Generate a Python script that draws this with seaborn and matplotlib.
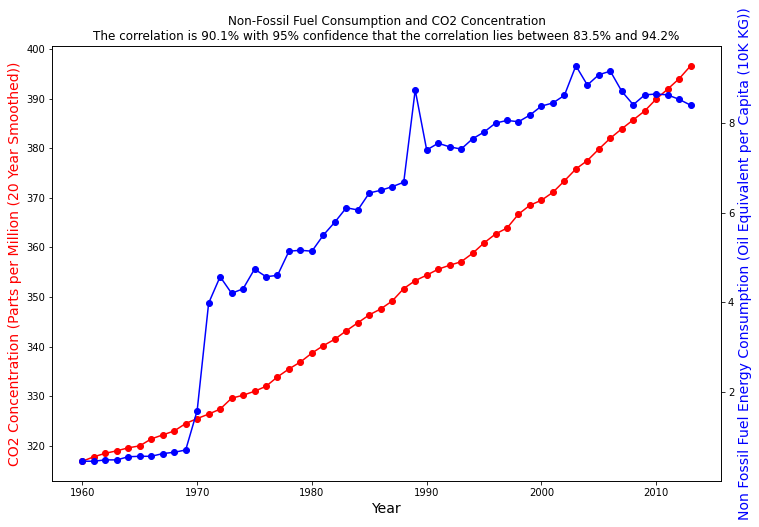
import matplotlib
matplotlib.use('Agg')
import matplotlib.pyplot as plt
import pandas as pd
import seaborn as sns

# Data
years = list(range(1960, 2014))

co2_ppm = [316.9, 317.8, 318.5, 319.0, 319.6, 320.0, 321.4, 322.2, 323.0, 324.5,
           325.5, 326.4, 327.4, 329.6, 330.2, 331.0, 332.0, 333.9, 335.5, 336.9,
           338.7, 340.2, 341.5, 343.2, 344.8, 346.4, 347.6, 349.2, 351.7, 353.3,
           354.4, 355.6, 356.4, 357.1, 358.8, 360.9, 362.7, 363.9, 366.7, 368.5,
           369.5, 371.1, 373.4, 375.8, 377.5, 379.8, 382.0, 383.9, 385.7, 387.5,
           389.9, 391.9, 394.0, 396.6]

non_fossil = [0.45, 0.45, 0.48, 0.48, 0.55, 0.56, 0.56, 0.62, 0.65, 0.70,
              1.58, 3.98, 4.57, 4.20, 4.30, 4.74, 4.57, 4.60, 5.14, 5.16,
              5.14, 5.50, 5.79, 6.11, 6.06, 6.44, 6.50, 6.58, 6.68, 8.74,
              7.40, 7.55, 7.47, 7.42, 7.65, 7.80, 8.00, 8.06, 8.03, 8.18,
              8.38, 8.45, 8.62, 9.28, 8.85, 9.08, 9.16, 8.71, 8.41, 8.63,
              8.65, 8.63, 8.53, 8.40]

df = pd.DataFrame({'year': years, 'co2': co2_ppm, 'nonfossil': non_fossil})

fig, ax = plt.subplots(figsize=(759 / 72, 527 / 72), dpi=72)
fig.subplots_adjust(left=0.0685, right=0.950, top=0.9127, bottom=0.0873)

sns.lineplot(data=df, x='year', y='co2', color='r', marker='o', markersize=6,
             markeredgewidth=1, markeredgecolor='r', ax=ax)
ax.set_xlabel('Year', fontsize=14)
ax.set_ylabel('CO2 Concentration (Parts per Million (20 Year Smoothed))',
              color='r', fontsize=14)

ax2 = ax.twinx()
sns.lineplot(data=df, x='year', y='nonfossil', color='b', marker='o', markersize=6,
             markeredgewidth=1, markeredgecolor='b', ax=ax2)
ax2.set_ylabel('Non Fossil Fuel Energy Consumption (Oil Equivalent per Capita (10K KG))',
               color='b', fontsize=14)

ax.set_title('Non-Fossil Fuel Consumption and CO2 Concentration\n'
             'The correlation is 90.1% with 95% confidence that the correlation '
             'lies between 83.5% and 94.2%', fontsize=12)

fig.savefig('out.png', dpi=72)
